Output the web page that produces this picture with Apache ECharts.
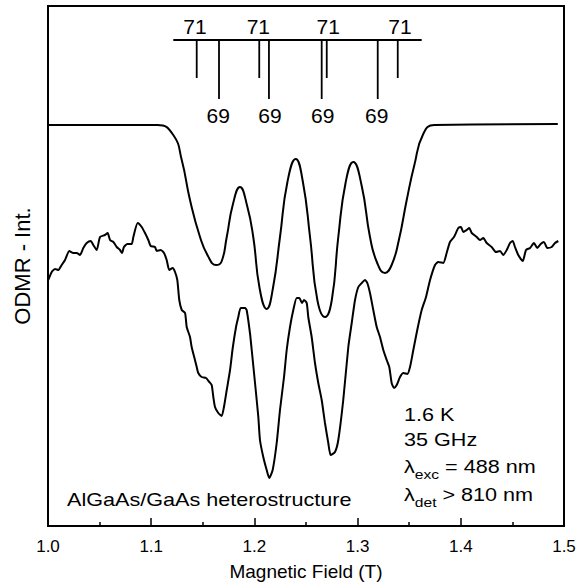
<!DOCTYPE html>
<html>
<head>
<meta charset="utf-8">
<script src="https://cdn.jsdelivr.net/npm/echarts@6/dist/echarts.min.js"></script>
<style>
  html, body { margin: 0; padding: 0; background: #fff; }
  #chart { width: 587px; height: 586px; }
</style>
</head>
<body>
<div id="chart"></div>
<script>
// axis ticks
const fieldTicks = [1.0, 1.1, 1.2, 1.3, 1.4, 1.5]

// simulated spectrum (upper trace), field in T, intensity in arb. units
const upperField = [1.000, 1.106, 1.1214, 1.1296, 1.1376, 1.1473, 1.155, 1.1628, 1.168, 1.1732, 1.179, 1.1860, 1.193, 1.1989, 1.205, 1.2119, 1.218, 1.2248, 1.232, 1.2400, 1.247, 1.2539, 1.261, 1.2684, 1.275, 1.2813, 1.2885, 1.2958, 1.304, 1.3120, 1.319, 1.3265, 1.333, 1.340, 1.3476, 1.355, 1.3636, 1.3744, 1.494]
const upperInt = [40.1, 40.1, 39.1, 36.6, 32.6, 28.9, 27.0, 26.1, 26.4, 28.9, 32.1, 33.9, 32.0, 28.9, 23.8, 21.7, 23.8, 28.9, 34.4, 36.7, 34.4, 28.9, 22.6, 20.9, 22.6, 28.9, 34.4, 36.4, 34.0, 28.9, 26.3, 25.3, 26.1, 28.6, 32.6, 36.1, 39.2, 40.1, 40.2]

// measured ODMR spectrum (lower trace)
const lowerField = [1.0003, 1.0036, 1.0068, 1.0100, 1.0133, 1.0165, 1.0206, 1.0245, 1.0278, 1.0310,
  1.0342, 1.0375, 1.0414, 1.0439, 1.0472, 1.0504, 1.0552, 1.0578, 1.0601, 1.0633,
  1.0666, 1.0698, 1.0717, 1.0736, 1.0768, 1.0811, 1.0827, 1.0869, 1.0908, 1.0940,
  1.0972, 1.0995, 1.1037, 1.1053, 1.1092, 1.1124, 1.1150, 1.1175, 1.1208, 1.1231,
  1.1253, 1.1272, 1.1296, 1.1328, 1.1344, 1.1376, 1.1392, 1.1424, 1.1441, 1.1456,
  1.1489, 1.1531, 1.1563, 1.1586, 1.1602, 1.1618, 1.1650, 1.1683, 1.1705, 1.1732,
  1.1764, 1.1790, 1.1822, 1.1844, 1.1867, 1.1909, 1.1925, 1.1957, 1.1974, 1.2006,
  1.2038, 1.2054, 1.2086, 1.2119, 1.2144, 1.2177, 1.2216, 1.2248, 1.2287, 1.2313,
  1.2345, 1.2377, 1.2410, 1.2435, 1.2461, 1.2481, 1.2507, 1.2522, 1.2555, 1.2587,
  1.2619, 1.2652, 1.2684, 1.2716, 1.2739, 1.2781, 1.2813, 1.2861, 1.2910, 1.2943,
  1.2975, 1.3007, 1.3040, 1.3072, 1.3094, 1.3120, 1.3152, 1.3185, 1.3217, 1.3249,
  1.3282, 1.3307, 1.3330, 1.3353, 1.3379, 1.3411, 1.3443, 1.3482, 1.3508, 1.3540,
  1.3578, 1.3621, 1.3663, 1.3702, 1.3750, 1.3782, 1.3830, 1.3863, 1.3895, 1.3934,
  1.3976, 1.4002, 1.4024, 1.4057, 1.4082, 1.4106, 1.4154, 1.4186, 1.4218, 1.4251,
  1.4299, 1.4341, 1.4380, 1.4412, 1.4445, 1.4477, 1.4503, 1.4525, 1.4557, 1.4600,
  1.4632, 1.4671, 1.4709, 1.4741, 1.4774, 1.4806, 1.4838, 1.4881, 1.4913, 1.4945]
const lowerInt = [24.6, 25.4, 25.7, 25.6, 26.1, 26.6, 27.5, 27.3, 27.3, 27.1,
  27.8, 28.3, 28.5, 28.1, 27.6, 28.9, 29.1, 29.3, 28.6, 28.4,
  27.9, 27.6, 27.3, 27.9, 28.2, 28.2, 28.9, 30.3, 29.9, 29.3,
  28.6, 28.0, 27.9, 27.5, 27.6, 27.3, 26.6, 25.6, 25.8, 25.4,
  24.6, 22.6, 21.6, 21.3, 19.9, 18.9, 17.9, 16.6, 15.9, 15.3,
  14.9, 14.8, 14.4, 14.1, 12.9, 11.9, 11.3, 11.0, 11.9, 13.6,
  15.6, 17.8, 19.9, 20.9, 21.8, 21.8, 21.6, 19.3, 17.6, 14.3,
  10.9, 8.6, 6.9, 5.6, 4.8, 5.6, 8.3, 11.6, 14.9, 17.6,
  19.9, 21.6, 22.8, 22.8, 22.3, 22.6, 22.3, 20.9, 18.9, 16.3,
  14.3, 12.6, 10.3, 8.3, 7.1, 7.4, 8.6, 12.6, 17.9, 20.3,
  22.6, 23.9, 24.3, 24.6, 24.3, 23.3, 21.6, 19.9, 18.9, 17.6,
  16.6, 15.9, 14.3, 13.8, 14.1, 14.9, 15.3, 15.2, 15.9, 17.6,
  19.6, 21.6, 22.9, 24.6, 26.1, 26.4, 26.3, 27.3, 28.4, 28.9,
  29.8, 29.9, 29.4, 29.6, 29.8, 29.3, 28.9, 28.6, 28.8, 28.3,
  27.9, 27.4, 27.5, 27.1, 27.6, 28.3, 28.5, 27.9, 27.1, 26.5,
  27.6, 27.8, 28.3, 27.8, 28.2, 28.4, 27.8, 27.9, 28.3, 28.5]

// hyperfine stick diagram: 71Ga and 69Ga line positions
const stick71 = [1.1441, 1.2047, 1.2701, 1.3389]
const stick69 = [1.1657, 1.2141, 1.2652, 1.3195]
const stickBase = [1.1214, 1.3621]
const stickLevel = 48.6
const stick71End = 44.8
const stick69End = 42.7
const label71Pos = [1.1424, 1.2038, 1.2716, 1.3411]
const label69Pos = [1.1650, 1.2151, 1.2662, 1.3185]
const label71Level = 50.0
const label69Level = 41.1

const fontName = '"Liberation Sans", Arial, Helvetica, sans-serif'

const chart = echarts.init(document.getElementById('chart'), null, { renderer: 'svg' })

const stickData = stick71.map((b) => [b, stickLevel, stick71End]).concat(stick69.map((b) => [b, stickLevel, stick69End]))
const labelData = label71Pos.map((b) => ({ value: [b, label71Level], name: '71' })).concat(label69Pos.map((b) => ({ value: [b, label69Level], name: '69' })))

// annotation text block
const annoStyle = { fontSize: 18, fontFamily: fontName, fill: '#000', verticalAlign: 'middle' }
const subRich = {
  a: { fontSize: 18, fontFamily: fontName, lineHeight: 28 },
  b: { fontSize: 13, fontFamily: fontName, lineHeight: 14, verticalAlign: 'bottom' }
}

const option = {
  animation: false,
  backgroundColor: '#fff',
  grid: {
    left: 48,
    right: 23,
    top: 6,
    bottom: 60,
    show: true,
    borderColor: '#000',
    borderWidth: 2
  },
  xAxis: {
    type: 'value',
    min: 1.0,
    max: 1.5,
    interval: 0.1,
    name: 'Magnetic Field (T)',
    nameLocation: 'middle',
    nameGap: 36,
    nameTextStyle: { fontSize: 19, fontFamily: fontName, color: '#000' },
    axisLine: { lineStyle: { color: '#000', width: 2 } },
    axisTick: { inside: true, length: 8, lineStyle: { color: '#000', width: 1.5 } },
    minorTick: { show: true, splitNumber: 2, length: 4, lineStyle: { color: '#000', width: 1.5 } },
    splitLine: { show: false },
    axisLabel: {
      fontSize: 17,
      fontFamily: fontName,
      color: '#000',
      margin: 12,
      formatter: (v) => v.toFixed(1)
    }
  },
  yAxis: {
    type: 'value',
    min: 0,
    max: 52,
    name: 'ODMR - Int.',
    nameLocation: 'middle',
    nameGap: 15,
    nameTextStyle: { fontSize: 22, fontFamily: fontName, color: '#000' },
    axisLine: { show: true, lineStyle: { color: '#000', width: 2 } },
    axisTick: { show: false },
    axisLabel: { show: false },
    splitLine: { show: false }
  },
  series: [
    {
      type: 'line',
      data: upperField.map((b, i) => [b, upperInt[i]]),
      smooth: 0.5,
      showSymbol: false,
      lineStyle: { color: '#000', width: 2 }
    },
    {
      type: 'line',
      data: lowerField.map((b, i) => [b, lowerInt[i]]),
      smooth: 0.2,
      showSymbol: false,
      lineStyle: { color: '#000', width: 2 }
    },
    {
      type: 'line',
      data: stickBase.map((b) => [b, stickLevel]),
      showSymbol: false,
      lineStyle: { color: '#000', width: 2 }
    },
    {
      type: 'custom',
      data: stickData,
      encode: { x: 0, y: [1, 2] },
      renderItem: (params, api) => {
        const p0 = api.coord([api.value(0), api.value(1)])
        const p1 = api.coord([api.value(0), api.value(2)])
        return {
          type: 'line',
          shape: { x1: p0[0], y1: p0[1], x2: p1[0], y2: p1[1] },
          style: { stroke: '#000', lineWidth: 1.8 }
        }
      }
    },
    {
      type: 'scatter',
      data: labelData,
      symbolSize: 0,
      itemStyle: { opacity: 1 },
      label: {
        show: true,
        position: 'inside',
        formatter: '{b}',
        fontSize: 21,
        fontFamily: fontName,
        color: '#000',
        opacity: 1,
        textBorderWidth: 0
      }
    }
  ],
  graphic: [
    { type: 'text', x: 404, y: 415, scaleX: 1.2, style: Object.assign({ text: '1.6 K' }, annoStyle) },
    { type: 'text', x: 404, y: 440, scaleX: 1.2, style: Object.assign({ text: '35 GHz' }, annoStyle) },
    { type: 'text', x: 404, y: 467, scaleX: 1.2, style: Object.assign({ text: '{a|λ}{b|exc}{a| = 488 nm}', rich: subRich }, annoStyle) },
    { type: 'text', x: 404, y: 495, scaleX: 1.2, style: Object.assign({ text: '{a|λ}{b|det}{a| > 810 nm}', rich: subRich }, annoStyle) },
    { type: 'text', x: 67, y: 500, scaleX: 1.2, style: Object.assign({ text: 'AlGaAs/GaAs heterostructure' }, annoStyle) }
  ]
}

chart.setOption(option)
</script>
</body>
</html>
